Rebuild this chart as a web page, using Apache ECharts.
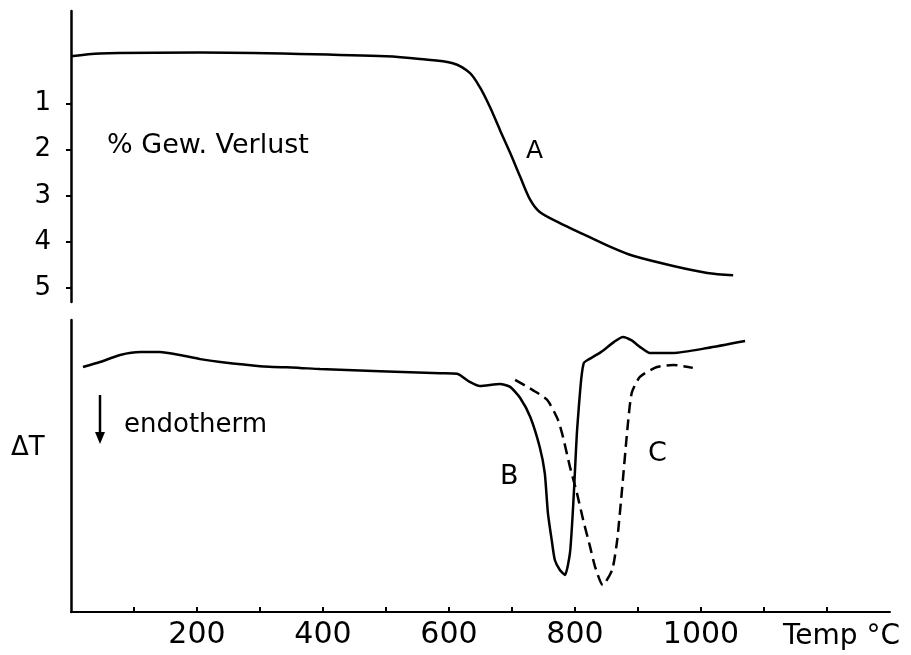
<!DOCTYPE html>
<html>
<head>
<meta charset="utf-8">
<script src="https://cdn.jsdelivr.net/npm/echarts@6/dist/echarts.min.js"></script>
<style>
html, body { margin: 0; padding: 0; background: #fff; }
#chart { width: 911px; height: 655px; }
</style>
</head>
<body>
<div id="chart"></div>
<script>
// Kurve A: Gewichtsverlust (%) gegen Temperatur
var aTemp = [0, 46, 205, 363, 500, 554, 606, 633, 649, 665, 681, 697, 713, 729, 744, 776, 813, 860, 892, 956, 1010, 1051];
var aLoss = [-0.02, -0.08, -0.1, -0.07, -0.02, 0.04, 0.13, 0.34, 0.65, 1.08, 1.58, 2.07, 2.59, 3.09, 3.35, 3.59, 3.83, 4.13, 4.3, 4.52, 4.67, 4.72];

// Kurve B: DTA (durchgezogen), relative Einheiten
var bTemp = [19, 46, 78, 110, 141, 173, 205, 237, 300, 363, 395, 586, 613, 633, 649, 681, 697, 713, 729, 744, 752, 757, 763, 768, 776, 784, 792, 797, 800, 803, 806, 810, 814, 820, 841, 862, 876, 890, 903, 919, 956, 1010, 1070];
var bDT = [83.9, 85.6, 88.0, 89.0, 89.0, 88.0, 86.6, 85.6, 84.2, 83.6, 83.2, 81.8, 81.6, 78.8, 77.4, 78.1, 77.1, 73.3, 66.8, 56.5, 47.6, 33.9, 24.7, 17.8, 14.4, 12.7, 20.2, 36.0, 48.6, 61.3, 70.0, 80.0, 85.3, 86.3, 89.0, 92.5, 94.2, 93.0, 90.8, 88.7, 88.7, 90.4, 92.8];

// Kurve C: DTA (gestrichelt)
var cTemp = [705, 733, 756, 773, 781, 792, 803, 813, 824, 832, 844, 859, 867, 875, 883, 890, 903, 930, 956, 987];
var cDT = [79.5, 76.0, 72.6, 65.8, 59.9, 49.7, 40.8, 31.5, 22.3, 15.4, 9.2, 14.4, 24.7, 42.8, 62.3, 75.0, 80.5, 83.9, 84.6, 83.6];

var xTicks = [100, 200, 300, 400, 500, 600, 700, 800, 900, 1000, 1100, 1200];
var xLabels = [200, 400, 600, 800, 1000];
var yTicks = [1, 2, 3, 4, 5];

function zip(xs, ys) {
  return xs.map(function (x, i) { return [x, ys[i]]; });
}

var font = 'DejaVu Sans';
var chart = echarts.init(document.getElementById('chart'));
chart.setOption({
  animation: false,
  grid: [
    { left: 71, top: 11, width: 819, height: 291 },
    { left: 71, top: 320, width: 819, height: 292 }
  ],
  xAxis: [
    { gridIndex: 0, type: 'value', min: 0, max: 1300, show: false },
    {
      gridIndex: 1, type: 'value', min: 0, max: 1300,
      axisLine: { lineStyle: { color: '#000', width: 2 } },
      axisTick: { inside: true, length: 5, customValues: xTicks, lineStyle: { color: '#000', width: 2 } },
      axisLabel: {
        customValues: xLabels, color: '#000', fontFamily: font, fontSize: 30, margin: 8,
        formatter: function (v) { return String(v); }
      },
      splitLine: { show: false }
    }
  ],
  yAxis: [
    {
      gridIndex: 0, type: 'value', min: -1, max: 5.3, inverse: true,
      axisLine: { show: true, lineStyle: { color: '#000', width: 2.5 } },
      axisTick: { show: true, length: 5, customValues: yTicks, lineStyle: { color: '#000', width: 2 } },
      axisLabel: { customValues: yTicks, color: '#000', fontFamily: font, fontSize: 26, margin: 20 },
      splitLine: { show: false }
    },
    {
      gridIndex: 1, type: 'value', min: 0, max: 100,
      axisLine: { show: true, lineStyle: { color: '#000', width: 2.5 } },
      axisTick: { show: false },
      axisLabel: { show: false },
      splitLine: { show: false }
    }
  ],
  series: [
    {
      name: 'A', type: 'line', xAxisIndex: 0, yAxisIndex: 0, smooth: 0.3,
      symbol: 'none', data: zip(aTemp, aLoss),
      lineStyle: { color: '#000', width: 2.5 }
    },
    {
      name: 'B', type: 'line', xAxisIndex: 1, yAxisIndex: 1, smooth: 0.2,
      symbol: 'none', data: zip(bTemp, bDT),
      lineStyle: { color: '#000', width: 2.5 }
    },
    {
      name: 'C', type: 'line', xAxisIndex: 1, yAxisIndex: 1, smooth: 0.2,
      symbol: 'none', data: zip(cTemp, cDT),
      lineStyle: { color: '#000', width: 2.5, type: [11, 6] }
    }
  ],
  graphic: [
    { type: 'text', left: 107, top: 132, style: { text: '% Gew. Verlust', font: '27px "DejaVu Sans"', fill: '#000' } },
    { type: 'text', left: 526, top: 139, style: { text: 'A', font: '25px "DejaVu Sans"', fill: '#000' } },
    { type: 'text', left: 500, top: 463, style: { text: 'B', font: '27px "DejaVu Sans"', fill: '#000' } },
    { type: 'text', left: 648, top: 440, style: { text: 'C', font: '27px "DejaVu Sans"', fill: '#000' } },
    { type: 'text', left: 11, top: 435, style: { text: 'ΔT', font: '26px "DejaVu Sans"', fill: '#000' } },
    { type: 'text', left: 124, top: 412, style: { text: 'endotherm', font: '26px "DejaVu Sans"', fill: '#000' } },
    { type: 'line', shape: { x1: 100, y1: 395, x2: 100, y2: 434 }, style: { stroke: '#000', lineWidth: 2.5 } },
    { type: 'polygon', shape: { points: [[95, 432], [105, 432], [100, 444]] }, style: { fill: '#000' } },
    { type: 'text', left: 783, top: 623, style: { text: 'Temp °C', font: '28px "DejaVu Sans"', fill: '#000' } }
  ]
});
</script>
</body>
</html>
